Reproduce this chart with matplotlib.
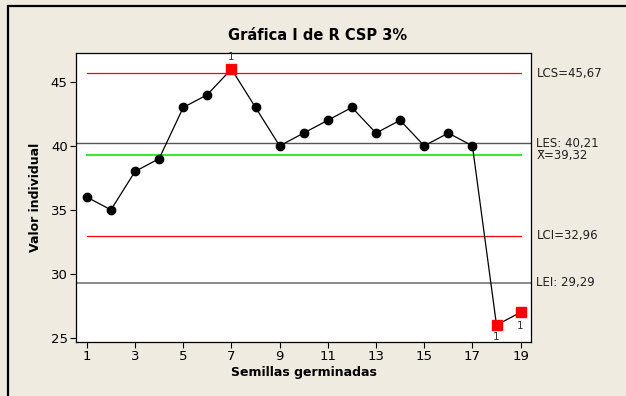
import matplotlib.pyplot as plt
from matplotlib.patches import Rectangle

# Individual values chart (I chart) for germinated seeds
semillas = list(range(1, 20))
valores = [36, 35, 38, 39, 43, 44, 46, 43, 40, 41, 42, 43, 41, 42, 40, 41, 40, 26, 27]
fuera_control = [7, 18, 19]

lcs = 45.67
lci = 32.96
media = 39.32
les = 40.21
lei = 29.29

x_ticks = [1, 3, 5, 7, 9, 11, 13, 15, 17, 19]
y_ticks = [25, 30, 35, 40, 45]

BG = "#EFEBE1"
plt.rcParams["font.family"] = ["DejaVu Sans"]

fig = plt.figure(figsize=(6.26, 3.96), dpi=100, facecolor=BG)
ax = fig.add_axes([0.1214, 0.1364, 0.7268, 0.729])
ax.set_facecolor("white")

# outer frame
fig.patches.append(Rectangle((8 / 626, -0.1), 1.2, 1.1 - 6 / 396,
                             transform=fig.transFigure, fill=False,
                             edgecolor="black", linewidth=1.6))

# control and spec lines
ax.plot([1, 19], [lcs, lcs], color="#FF0000", lw=0.9, zorder=1)
ax.plot([1, 19], [lci, lci], color="#FF0000", lw=0.9, zorder=1)
ax.plot([1, 19], [media, media], color="#33EE33", lw=1.5, zorder=1)
ax.axhline(les, color="#555555", lw=1.0, zorder=1)
ax.axhline(lei, color="#777777", lw=1.2, zorder=1)

ax.plot(semillas, valores, color="black", lw=0.9, zorder=2)
normales = [(s, v) for s, v in zip(semillas, valores) if s not in fuera_control]
ax.plot([p[0] for p in normales], [p[1] for p in normales], "o",
        color="black", markersize=6, zorder=3)
rojos = [(s, valores[s - 1]) for s in fuera_control]
ax.plot([p[0] for p in rojos], [p[1] for p in rojos], "s",
        color="#FF0000", markersize=6.5, zorder=3)

# test 1 flags
ax.annotate("1", (7, valores[6]), xytext=(0, 5), textcoords="offset points",
            ha="center", va="bottom", fontsize=7.5, color="#333333")
ax.annotate("1", (18, valores[17]), xytext=(0, -5), textcoords="offset points",
            ha="center", va="top", fontsize=7.5, color="#333333")
ax.annotate("1", (19, valores[18]), xytext=(0, -6), textcoords="offset points",
            ha="center", va="top", fontsize=7.5, color="#333333")

ax.set_xlim(0.55, 19.43)
ax.set_ylim(24.68, 47.23)
ax.set_xticks(x_ticks)
ax.set_yticks(y_ticks)
ax.tick_params(direction="out", length=4, width=0.8, labelsize=9.5, pad=2)
for s in ax.spines.values():
    s.set_linewidth(0.9)

# labels on the right
lbl = dict(transform=ax.get_yaxis_transform(), ha="left", va="center",
           fontsize=8.5, color="#222222", clip_on=False)
ax.text(1.012, lcs, "LCS=45,67", **lbl)
ax.text(1.012, les, "LES: 40,21", **lbl)
ax.text(1.012, media - 0.05, "X\u0304=39,32", **lbl)
ax.text(1.012, lci, "LCI=32,96", **lbl)
ax.text(1.012, lei, "LEI: 29,29", **lbl)

fig.text(318 / 626, 1 - 35 / 396, "Gráfica I de R CSP 3%", ha="center",
         va="center", fontsize=10.5, fontweight="bold")
ax.set_xlabel("Semillas germinadas", fontsize=9, fontweight="bold", labelpad=2)
ax.set_ylabel("Valor individual", fontsize=9, fontweight="bold", labelpad=6)

fig.savefig("out.png", dpi=100, facecolor=BG)
